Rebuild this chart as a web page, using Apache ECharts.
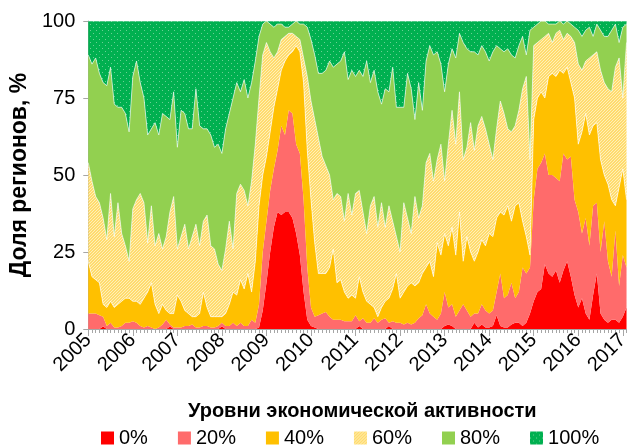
<!DOCTYPE html>
<html><head><meta charset="utf-8">
<script src="https://cdn.jsdelivr.net/npm/echarts/dist/echarts.min.js"></script>
<style>html,body{margin:0;padding:0;background:#fff}#c{width:632px;height:447px}</style>
</head><body><div id="c"></div><script>
const years = ['2005','2006','2007','2008','2009','2010','2011','2012','2013','2014','2015','2016','2017'];
const yTicks = [0, 25, 50, 75, 100];
const seriesNames = ['0%', '20%', '40%', '60%', '80%', '100%'];
const legendTitle = 'Уровни экономической активности';
const yName = 'Доля регионов, %';

// monthly shares of regions (%) by activity level, Jan 2005 .. Feb 2017
const lvl0 = [
0,0,0,0,0.8,0,0,0,0,0,0,0,
0,0,0,0,0,0,0,0,0,0,0.8,0,
0,0,0,0,0,0,0,0,0,0,0,0,
0.8,0,0,0,0,0,0,0,0,0,0.5,6,
15,25,33,38,37,38,38,36,31,24,12,3,
1,0.5,0,0,0,0,0,0,0,0,0,0,
0,1,0,0,0,0,0,0,0,1,0,0,
0,0,0,0,0,0,0,0,0,0,0,0,
1,1.5,1,0,0,0,0,0,2,0.5,1.5,0.5,
0.5,1,4.5,1,0.5,0.5,1.5,2,2,1,2,5,
9,12,13,21,18,17,19,15,19,22,17,11,
7,10,5,3,11,18,5,3,2,3,3,2,
4,7];
const lvl20 = [
5,5,5,4.5,3.2,1,2,0.5,0.5,1,2,2,
2.5,2,1,0.5,1,0.5,0,0.5,1.5,3,0.7,0.5,
0.5,0.5,1,1,1.5,0.5,0.5,1,1,0.5,0.5,1,
1.2,1,1,2,1,2,1,1,3,2,7.5,19,
20,20,19,20,29,25,33,34,29,33,30,17,
6,3.5,4.5,5,5.5,4,3,3,3,2.5,2.5,2.5,
4.5,1.5,3.5,2,2,3.5,2,3,3.5,1,2.5,2,
2,1.5,2,1.5,2,3.5,4.5,8,5,4,3,5,
11,5.5,7,4,6,8,6,4,3,4.5,6.5,5.5,
4.5,5,7.5,17,9.5,10.5,13.5,8,10,19,16,15,
33,40,41,36,32,33,30,33,38,33,39,31,
31,21,31,24,29,23,20,32,20,14,29,12,
20,13];
const lvl40 = [
17,12,11,10.5,4,6,7,6.5,7.5,8,8,8,
6.5,7,7,9.5,11,14.5,8,4.5,6.5,3,3.5,4.5,
10.5,8.5,5,4,2.5,3.5,4.5,11,6,3.5,3.5,3,
2,4,7,10,10,14,12,17,9,20,32,25,
21,19,20,20,18,24,18,20,32,33,38,38,
35,24,13.5,13,12.5,16,23,12,13,9.5,7.5,8.5,
5.5,14.5,8.5,7,6,3.5,2,4,5.5,8,10.5,16,
8,10.5,12,13.5,12,11.5,13.5,12,17,13,25,19,
19,20,25,20,32,14,24,21,17,20,21,21,
26,24,24,20,27,29,20,30,29,15,12,4,
26,23,23,18,32,33,33,36,26,30,24,33,
22,33,34,36,26,26,30,15,25,25,8,32,
28,22];
const lvl60 = [
32,31,27,26,28,22,35,23,33,22,17,12,
30,33,36,31,16,25,19,26,18,24,33,38,
15,21,28,21,26,30,22,23,30,23,22,17,
15,21,27,14,33,31,32,22,36,38,35,39,
37,26,16,12,10,8,7,6,3,4,8,24,
32,40,44,38,35,30,16,29,27,23,34,26,
34,28,26,22,32,36,29,34,24,30,22,12,
15,29,22,16,29,21,22,34,35,31,27,36,
17,33,38,36,39,33,29,42,36,41,40,38,
29,25,29,36,33,25,29,26,30,43,52,31,
24,18,17,20,14,10,14,13,11,11,15,18,
26,20,17,25,23,23,29,30,31,35,45,42,
23,51];
const lvl80 = [
35,38,45,42,44,50,41,43,31,41,43,42,
43,45,36,34,35,25,40,32,44,39,30,34,
33,41,36,39,35,44,39,30,28,36,33,39,
38,39,35,49,36,30,36,35,32,27,20,10,
7,9,10,9,5,3,2,3,5,5,11,16,
20,21,21,27,31,37,43,42,44,55,37,47,
38,39,44,56,40,41,44,32,45,37,50,42,
47,31,47,47,25,44,31,33,35,41,35,26,
29,26,20,28,19,38,32,23,32,23,23,25,
27,35,27,17,20,26,25,22,21,17,7,42,
6,6,6,5,3,6,3,3,5,4,4,5,
11,11,10,10,6,9,13,15,17,20,14,5,
23,6];
const lvl100 = [
11,14,12,17,20,21,15,27,28,28,30,36,
18,13,20,25,37,35,33,37,30,31,32,23,
41,29,30,35,35,22,34,35,35,37,41,40,
43,35,30,25,20,23,19,25,20,13,5,1,
0,1,2,1,1,2,2,1,0,1,1,2,
6,11,17,17,16,13,15,14,13,10,19,16,
18,16,18,13,20,16,23,27,22,23,15,28,
28,28,17,22,32,20,29,13,8,11,10,14,
23,14,9,12,4,7,9,10,10,11,8,10,
13,10,8,9,10,9,11,12,8,5,11,3,
2,1,0,0,1,1,1,0,1,0,1,2,
3,5,3,2,5,1,3,5,5,3,1,7,
2,1];

const months = [];
years.forEach(y => { for (let m = 1; m <= 12; m++) months.push(y + '-' + String(m).padStart(2, '0')); });
const categories = months.slice(0, lvl0.length);

function pattern(bg, dot, size, pts) {
  const c = document.createElement('canvas');
  c.width = size; c.height = size;
  const g = c.getContext('2d');
  g.fillStyle = bg; g.fillRect(0, 0, size, size);
  g.fillStyle = dot;
  pts.forEach(p => g.fillRect(p[0], p[1], 1, 1));
  return { image: c, repeat: 'repeat' };
}
const pat60 = pattern('#FFDB6E', '#FFF0B8', 3, [[0,0],[2,1],[1,2]]);
const pat100 = pattern('#00B050', '#6ACF94', 6, [[0,0],[3,3]]);

const colors = ['#FF0000', '#FF6B6B', '#FFC000', '#FFE183', '#92D050', '#00B050'];
const fills = ['#FF0000', '#FF6B6B', '#FFC000', pat60, '#92D050', pat100];
const data = [lvl0, lvl20, lvl40, lvl60, lvl80, lvl100];
const font = '"Liberation Sans", Arial, sans-serif';

const chart = echarts.init(document.getElementById('c'), null, { renderer: 'canvas' });
chart.setOption({
  animation: false,
  backgroundColor: '#ffffff',
  textStyle: { fontFamily: font },
  title: {
    text: legendTitle, left: 183, top: 396,
    textStyle: { fontFamily: font, fontSize: 20, fontWeight: 'bold', color: '#000' }
  },
  legend: {
    left: 96, top: 423, icon: 'rect', itemWidth: 13, itemHeight: 13, itemGap: 30,
    textStyle: { fontFamily: font, fontSize: 20, color: '#000' },
    itemStyle: { borderWidth: 0 },
    data: seriesNames.map((n, i) => ({ name: n, itemStyle: { color: fills[i], borderWidth: 0 } }))
  },
  grid: { left: 87, right: 0, top: 21, bottom: 118, containLabel: false },
  xAxis: [{
    type: 'category', data: categories, boundaryGap: false, position: 'bottom',
    axisLine: { show: true, lineStyle: { color: '#A6A6A6', width: 1 } },
    axisTick: { show: true, interval: 0, length: 4, lineStyle: { color: '#A6A6A6' } },
    axisLabel: {
      interval: (idx) => idx % 12 === 0,
      formatter: (v) => v.slice(0, 4),
      rotate: 45, margin: 8, fontSize: 20, color: '#000', fontFamily: font
    },
    splitLine: { show: false }
  }, {
    type: 'category', data: categories, boundaryGap: false, position: 'bottom',
    axisLine: { show: false },
    axisTick: { show: true, interval: (idx) => idx % 12 === 0, length: 7, lineStyle: { color: '#A6A6A6' } },
    axisLabel: { show: false },
    splitLine: { show: false }
  }],
  yAxis: {
    type: 'value', min: yTicks[0], max: yTicks[yTicks.length - 1], interval: 25,
    name: yName, nameLocation: 'middle', nameRotate: 90, nameGap: 56,
    nameTextStyle: { fontFamily: font, fontSize: 23, fontWeight: 'bold', color: '#000' },
    axisLine: { show: true, lineStyle: { color: '#A6A6A6', width: 1 } },
    axisTick: { show: true, length: 5, lineStyle: { color: '#A6A6A6' } },
    axisLabel: { fontSize: 20, color: '#000', margin: 13, fontFamily: font },
    splitLine: { show: false }
  },
  series: data.map((d, i) => ({
    name: seriesNames[i], type: 'line', stack: 'all', data: d,
    xAxisIndex: 0, showSymbol: false, symbol: 'none', smooth: false,
    color: colors[i],
    lineStyle: { width: i < 2 ? 0 : 0.8, color: 'rgba(255,255,255,0.75)' },
    areaStyle: { color: fills[i], opacity: 1 },
    itemStyle: { color: colors[i] },
    emphasis: { disabled: true }
  }))
});
</script></body></html>
